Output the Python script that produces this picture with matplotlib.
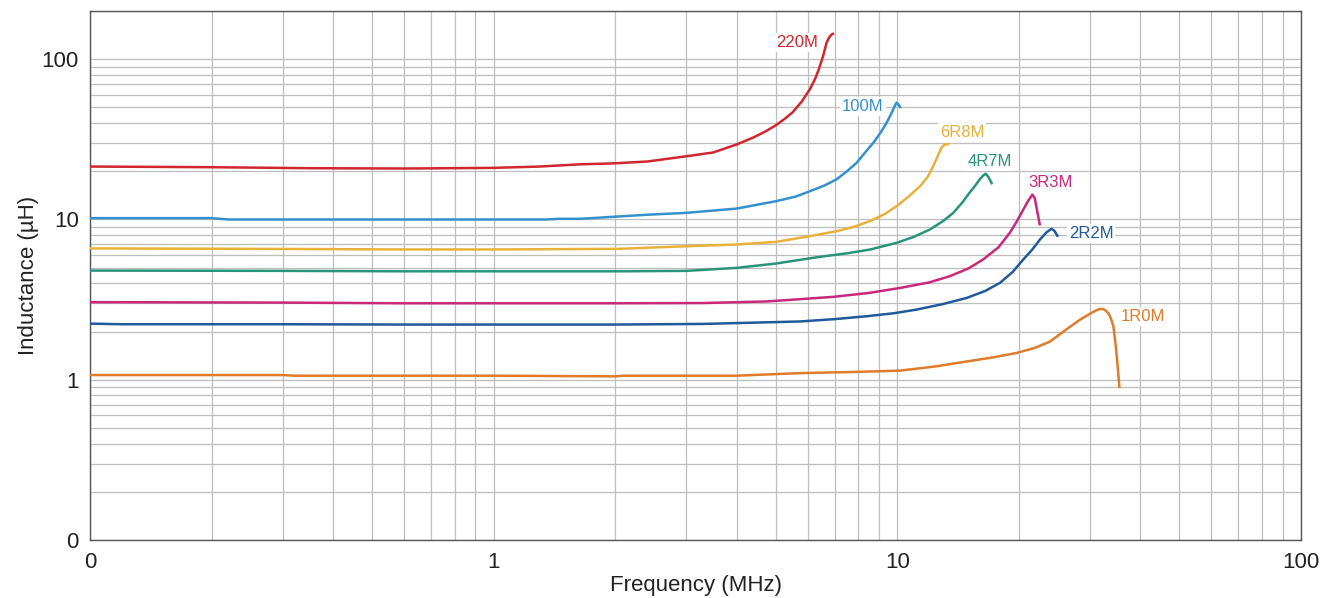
import numpy as np
import matplotlib
matplotlib.use('Agg')
from matplotlib import pyplot as plt
from matplotlib.ticker import FixedLocator, FixedFormatter, LogLocator, NullFormatter

plt.rcParams['font.family'] = ['Liberation Sans', 'DejaVu Sans']

# inductance vs frequency
f_220 = [0.1, 0.2, 0.35, 0.6, 1.0, 1.3, 1.64, 1.98, 2.4, 3.0, 3.5, 4.0, 4.4, 4.7, 5.0, 5.25, 5.5, 5.8, 6.07, 6.25, 6.39, 6.55, 6.68, 6.78, 6.88, 6.97]
L_220 = [21.4, 21.2, 20.9, 20.8, 21.0, 21.4, 22.1, 22.4, 23.0, 24.8, 26.2, 29.4, 32.5, 35.3, 38.7, 42.3, 46.6, 54.5, 64.9, 75, 86.6, 105, 127, 137, 143, 145]

f_100 = [0.1, 0.2, 0.22, 0.5, 1.0, 1.35, 1.45, 1.64, 2.39, 3.0, 4.0, 5.0, 5.6, 6.07, 6.6, 7.07, 7.5, 7.93, 8.3, 8.72, 9.1, 9.41, 9.65, 9.85, 9.95, 10.05, 10.2]
L_100 = [10.2, 10.2, 10.0, 10.0, 10.0, 10.0, 10.1, 10.1, 10.7, 11.0, 11.7, 13.0, 13.9, 15.0, 16.3, 17.8, 20.0, 22.6, 26.0, 30.1, 35.0, 40.2, 45.5, 51.0, 53.5, 52.5, 49.6]

f_6r8 = [0.1, 0.3, 0.6, 1.0, 2.05, 3.0, 4.0, 5.0, 6.07, 7.07, 7.8, 8.55, 9.3, 9.96, 10.7, 11.4, 11.9, 12.27, 12.6, 12.88, 13.1, 13.44]
L_6r8 = [6.6, 6.55, 6.5, 6.5, 6.56, 6.81, 6.98, 7.25, 7.87, 8.45, 9.0, 9.76, 10.8, 12.1, 14.0, 16.2, 18.5, 21.5, 25.0, 28.2, 29.3, 29.6]

f_4r7 = [0.1, 0.3, 0.6, 1.0, 2.05, 3.0, 4.0, 5.0, 6.43, 7.5, 8.55, 9.96, 11.0, 12.04, 13.0, 13.76, 14.5, 15.1, 15.6, 16.0, 16.35, 16.55, 16.8, 17.18]
L_4r7 = [4.8, 4.78, 4.75, 4.75, 4.75, 4.78, 4.99, 5.31, 5.85, 6.15, 6.49, 7.15, 7.8, 8.66, 9.8, 11.0, 12.8, 14.7, 16.3, 17.8, 18.9, 19.3, 18.5, 16.6]

f_3r3 = [0.1, 0.3, 0.6, 1.0, 2.0, 3.3, 4.75, 6.94, 8.5, 10.15, 12.0, 13.5, 15.0, 16.3, 17.8, 19.0, 19.8, 20.5, 21.1, 21.6, 21.9, 22.2, 22.56]
L_3r3 = [3.05, 3.03, 3.0, 3.0, 3.0, 3.01, 3.08, 3.29, 3.48, 3.74, 4.05, 4.43, 4.95, 5.62, 6.7, 8.26, 9.8, 11.5, 13.1, 14.3, 13.6, 11.3, 9.17]

f_2r2 = [0.1, 0.12, 0.3, 0.6, 1.0, 2.0, 3.3, 5.74, 7.0, 8.39, 9.8, 11.16, 13.0, 14.85, 16.5, 17.95, 19.3, 20.5, 21.6, 22.56, 23.4, 24.1, 24.5, 25.0]
L_2r2 = [2.24, 2.22, 2.22, 2.21, 2.21, 2.21, 2.23, 2.31, 2.39, 2.49, 2.6, 2.74, 2.97, 3.24, 3.58, 4.02, 4.7, 5.62, 6.5, 7.5, 8.3, 8.75, 8.5, 7.8]

f_1r0 = [0.1, 0.3, 0.32, 1.0, 2.0, 2.1, 4.0, 5.74, 8.0, 10.15, 12.4, 14.85, 17.3, 19.75, 21.9, 23.9, 25.1, 26.3, 28.2, 30.0, 31.0, 31.8, 32.6, 33.3, 33.8, 34.3, 34.6, 34.9, 35.2, 35.5]
L_1r0 = [1.07, 1.07, 1.06, 1.06, 1.05, 1.06, 1.06, 1.10, 1.12, 1.14, 1.21, 1.30, 1.38, 1.47, 1.58, 1.73, 1.9, 2.07, 2.35, 2.58, 2.7, 2.77, 2.74, 2.61, 2.42, 2.15, 1.8, 1.47, 1.15, 0.887]

names = ['220M', '100M', '6R8M', '4R7M', '3R3M', '2R2M', '1R0M']
freqs = [f_220, f_100, f_6r8, f_4r7, f_3r3, f_2r2, f_1r0]
inds = [L_220, L_100, L_6r8, L_4r7, L_3r3, L_2r2, L_1r0]
colors = ['#d0262e', '#3591cc', '#e8b23a', '#2a9478', '#c9287b', '#22599b', '#e07b2c']
label_pos = [(5.64, 128), (8.22, 50.8), (14.45, 35.0), (16.9, 23.0), (24.0, 17.0), (30.2, 8.18), (40.5, 2.48)]

xticks = [0.1, 1, 10, 100]
xticklabels = ['0', '1', '10', '100']
yticks = [0.1, 1, 10, 100]
yticklabels = ['0', '1', '10', '100']

fig = plt.figure(figsize=(13.22, 5.98), dpi=100)
ax = fig.add_axes([90/1322, 58/598, (1301-90)/1322, (540-11)/598])

for fr, L, c in zip(freqs, inds, colors):
    ax.plot(fr, L, color=c, lw=1.8, solid_capstyle='butt', solid_joinstyle='round', zorder=3)

for name, (x, y), c in zip(names, label_pos, colors):
    ax.text(x, y, name, color=c, fontsize=12, ha='center', va='center', zorder=4,
            bbox=dict(facecolor='white', edgecolor='none', pad=1.5))

ax.set_xscale('log')
ax.set_yscale('log')
ax.set_xlim(0.1, 100)
ax.set_ylim(0.1, 200)

ax.xaxis.set_major_locator(FixedLocator(xticks))
ax.xaxis.set_major_formatter(FixedFormatter(xticklabels))
ax.yaxis.set_major_locator(FixedLocator(yticks))
ax.yaxis.set_major_formatter(FixedFormatter(yticklabels))
ax.xaxis.set_minor_locator(LogLocator(base=10, subs=np.arange(2, 10)))
ax.yaxis.set_minor_locator(LogLocator(base=10, subs=np.arange(2, 10)))
ax.xaxis.set_minor_formatter(NullFormatter())
ax.yaxis.set_minor_formatter(NullFormatter())

ax.grid(True, which='both', color='#bdbdbd', lw=0.9, zorder=0)
ax.set_axisbelow(True)
ax.tick_params(which='both', length=0, labelsize=16, colors='#222222')
ax.tick_params(axis='x', pad=9)
ax.tick_params(axis='y', pad=8)

for s in ax.spines.values():
    s.set_color('#555555')
    s.set_linewidth(1.0)

ax.set_xlabel('Frequency (MHz)', fontsize=16, color='#222222', labelpad=1)
ax.set_ylabel('Inductance (\u00b5H)', fontsize=16, color='#222222', labelpad=2)

fig.savefig('out.png', dpi=100)
